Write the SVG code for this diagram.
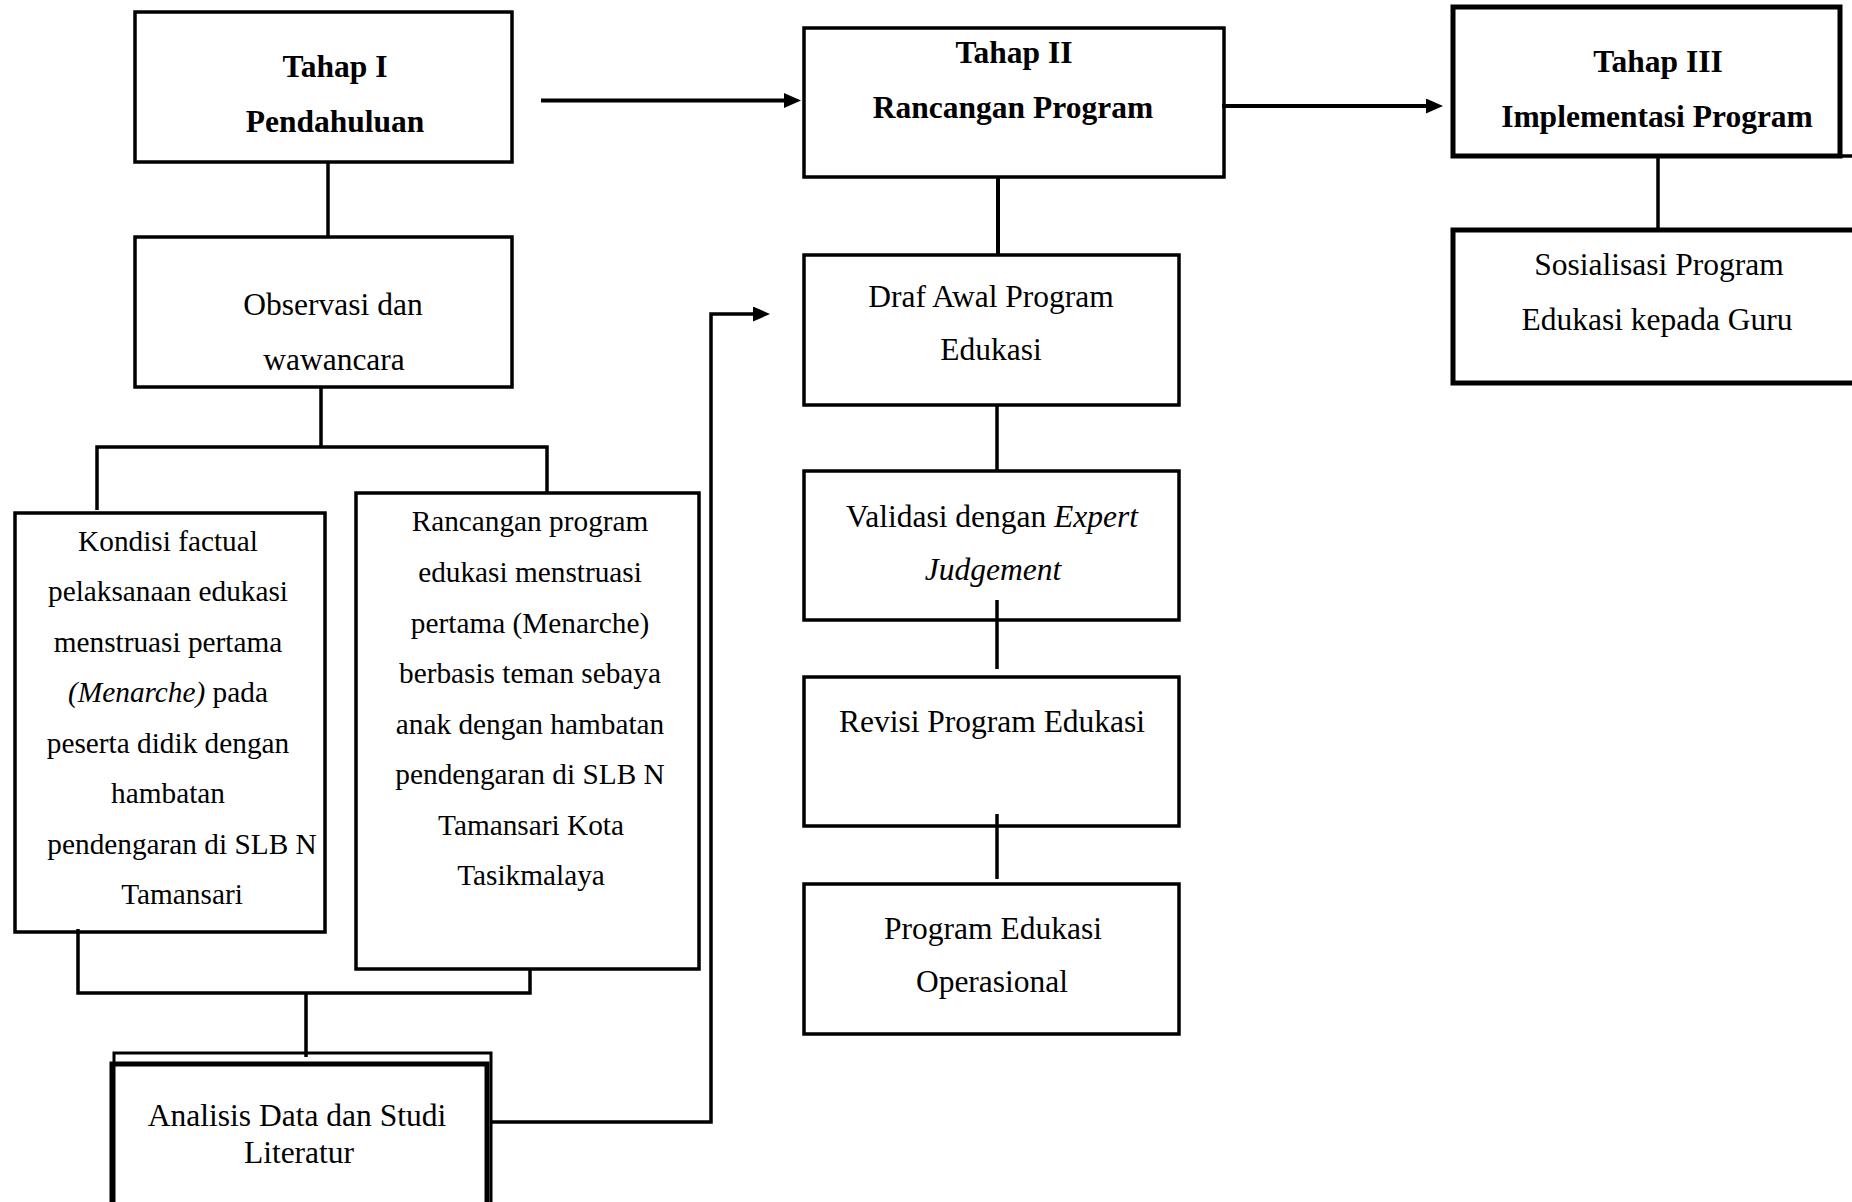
<svg xmlns="http://www.w3.org/2000/svg" width="1852" height="1202" viewBox="0 0 1852 1202">
<style>
.box{fill:none;stroke:#000;stroke-width:3.5}
.thick{stroke-width:5}
.thin{stroke-width:3}
.conn{fill:none;stroke:#000;stroke-width:3.5}
.arr{fill:none;stroke:#000;stroke-width:4}
text{font-family:"Liberation Serif","Times New Roman",serif;font-size:31.5px;text-anchor:middle;fill:#000}
.h{font-weight:bold}
.s{font-size:29.3px}
.i{font-style:italic}
</style>
<defs>
<marker id="arrow" markerUnits="userSpaceOnUse" markerWidth="17" markerHeight="15" viewBox="0 0 17 15" refX="2" refY="7.5" orient="auto">
<path d="M0,0 L17,7.5 L0,15 z" fill="#000"/>
</marker>
</defs>
<rect x="0" y="0" width="1852" height="1202" fill="#fff"/>

<g id="connectors">
<line class="conn" x1="328" y1="162" x2="328" y2="237"/>
<line class="arr" x1="541" y1="100.5" x2="786" y2="100.5" marker-end="url(#arrow)"/>
<line class="arr" x1="1222" y1="106" x2="1428" y2="106" marker-end="url(#arrow)"/>
<line class="arr" x1="998" y1="177" x2="998" y2="255"/>
<line class="conn thick" x1="1658" y1="156" x2="1658" y2="230"/>
<path class="conn" d="M321,387 V447 M97,510 V447 H547 V493"/>
<path class="conn thin" d="M78,929 V993 H530 V968 M306,993 V1057"/>
<path class="conn" d="M490,1122 H711 V314 H755" marker-end="url(#arrow)"/>
<line class="conn" x1="997" y1="405" x2="997" y2="471"/>
<line class="conn" x1="997" y1="600" x2="997" y2="669"/>
<line class="conn" x1="997" y1="814" x2="997" y2="879"/>
</g>

<g id="tahap1">
<rect class="box" x="135" y="12" width="377" height="150"/>
<text class="h" x="335" y="77">Tahap I</text>
<text class="h" x="335" y="132">Pendahuluan</text>
</g>

<g id="observasi">
<rect class="box" x="135" y="237" width="377" height="150"/>
<text x="333" y="315">Observasi dan</text>
<text x="334" y="370">wawancara</text>
</g>

<g id="kondisi">
<rect class="box" x="15" y="513" width="310" height="419"/>
<text class="s" x="168" y="551">Kondisi factual</text>
<text class="s" x="168" y="601">pelaksanaan edukasi</text>
<text class="s" x="168" y="652">menstruasi pertama</text>
<text class="s" x="168" y="702"><tspan class="i">(Menarche)</tspan> pada</text>
<text class="s" x="168" y="753">peserta didik dengan</text>
<text class="s" x="168" y="803">hambatan</text>
<text class="s" x="182" y="854">pendengaran di SLB N</text>
<text class="s" x="182" y="904">Tamansari</text>
</g>

<g id="rancangan">
<rect class="box" x="356" y="493" width="343" height="476"/>
<text class="s" x="530" y="531">Rancangan program</text>
<text class="s" x="530" y="582">edukasi menstruasi</text>
<text class="s" x="530" y="633">pertama (Menarche)</text>
<text class="s" x="530" y="683">berbasis teman sebaya</text>
<text class="s" x="530" y="734">anak dengan hambatan</text>
<text class="s" x="530" y="784">pendengaran di SLB N</text>
<text class="s" x="531" y="835">Tamansari Kota</text>
<text class="s" x="531" y="885">Tasikmalaya</text>
</g>

<g id="analisis">
<rect class="box thin" x="114" y="1053" width="377" height="220"/>
<rect class="box thick" x="112" y="1064" width="375" height="220"/>
<text x="297" y="1126">Analisis Data dan Studi</text>
<text x="299" y="1163">Literatur</text>
</g>

<g id="tahap2">
<rect class="box" x="804" y="28" width="420" height="149"/>
<text class="h" x="1014" y="63">Tahap II</text>
<text class="h" x="1013" y="118">Rancangan Program</text>
</g>

<g id="draf">
<rect class="box" x="804" y="255" width="375" height="150"/>
<text x="991" y="307">Draf Awal Program</text>
<text x="991" y="360">Edukasi</text>
</g>

<g id="validasi">
<rect class="box" x="804" y="471" width="375" height="149"/>
<text x="992" y="527">Validasi dengan <tspan class="i">Expert</tspan></text>
<text class="i" x="993" y="580">Judgement</text>
</g>

<g id="revisi">
<rect class="box" x="804" y="677" width="375" height="149"/>
<text x="992" y="732">Revisi Program Edukasi</text>
</g>

<g id="operasional">
<rect class="box" x="804" y="884" width="375" height="150"/>
<text x="993" y="939">Program Edukasi</text>
<text x="992" y="992">Operasional</text>
</g>

<g id="tahap3">
<rect class="box thick" x="1453" y="7" width="387" height="149"/>
<line class="conn thick" x1="1840" y1="156" x2="1852" y2="156"/>
<text class="h" x="1658" y="72">Tahap III</text>
<text class="h" x="1657" y="127">Implementasi Program</text>
</g>

<g id="sosialisasi">
<rect class="box thick" x="1453" y="230" width="430" height="153"/>
<text x="1659" y="275">Sosialisasi Program</text>
<text x="1657" y="330">Edukasi kepada Guru</text>
</g>
</svg>
